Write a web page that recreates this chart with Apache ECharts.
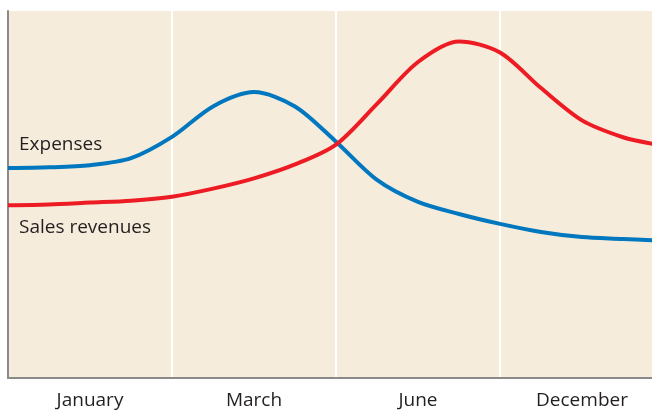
<!DOCTYPE html>
<html>
<head>
<meta charset="utf-8">
<script src="https://cdn.jsdelivr.net/npm/echarts@6/dist/echarts.min.js"></script>
<style>
  html, body { margin: 0; padding: 0; background: #ffffff; }
  #chart { width: 652px; height: 410px; }
</style>
</head>
<body>
<div id="chart"></div>
<script>
// Period labels, one per band along the bottom
const months = ['January', 'March', 'June', 'December'];

// Positions along the year, in band units (quarter-band steps)
const steps = [0, 0.25, 0.5, 0.75, 1, 1.25, 1.5, 1.75, 2, 2.25, 2.5, 2.75, 3, 3.25, 3.5, 3.75, 3.93];

// Relative levels of each series at those positions
const expenses = [57.2, 57.4, 58.0, 59.9, 65.7, 74.0, 77.9, 74.0, 64.4, 54.0, 48.0, 44.7, 42.0, 39.8, 38.4, 37.9, 37.5];
const salesRevenues = [47.1, 47.3, 47.8, 48.3, 49.4, 51.6, 54.4, 58.2, 63.6, 74.7, 86.1, 91.7, 88.7, 79.0, 70.2, 65.6, 63.8];

const pairs = (xs, ys) => xs.map((x, i) => [x, ys[i]]);

const textColor = '#231f20';
const fontFamily = 'Open Sans, Liberation Sans, sans-serif';

const chart = echarts.init(document.getElementById('chart'));
chart.setOption({
  animation: false,
  // the last band runs past the right edge of the canvas
  grid: {
    left: 8, top: 11, width: 656, bottom: 32,
    outerBoundsMode: 'none',
    show: true, backgroundColor: '#f6ecdb', borderWidth: 0
  },
  xAxis: [
    {
      type: 'value', min: 0, max: 4, interval: 1,
      axisLine: { show: false }, axisTick: { show: false }, axisLabel: { show: false },
      splitLine: { show: true, lineStyle: { color: '#ffffff', width: 2 } }
    },
    {
      type: 'category', data: months, boundaryGap: true, position: 'bottom',
      axisLine: { show: true, lineStyle: { color: '#8a8a8a', width: 2 } },
      axisTick: { show: false },
      axisLabel: { color: textColor, fontSize: 19, fontFamily: fontFamily, margin: 13 },
      splitLine: { show: false }
    }
  ],
  yAxis: {
    type: 'value', min: 0, max: 100,
    axisLine: { show: true, lineStyle: { color: '#8a8a8a', width: 2 } },
    axisTick: { show: false }, axisLabel: { show: false },
    splitLine: { show: false }
  },
  series: [
    {
      name: 'Expenses', type: 'line', xAxisIndex: 0,
      data: pairs(steps, expenses),
      smooth: 0.3, showSymbol: false,
      lineStyle: { color: '#0077be', width: 4 }
    },
    {
      name: 'Sales revenues', type: 'line', xAxisIndex: 0,
      data: pairs(steps, salesRevenues),
      smooth: 0.3, showSymbol: false,
      lineStyle: { color: '#ed1c24', width: 4 }
    }
  ],
  graphic: [
    {
      type: 'text', left: 19, top: 135,
      style: { text: 'Expenses', fill: textColor, fontSize: 19, fontFamily: fontFamily }
    },
    {
      type: 'text', left: 19, top: 218,
      style: { text: 'Sales revenues', fill: textColor, fontSize: 19, fontFamily: fontFamily }
    }
  ]
});
</script>
</body>
</html>
